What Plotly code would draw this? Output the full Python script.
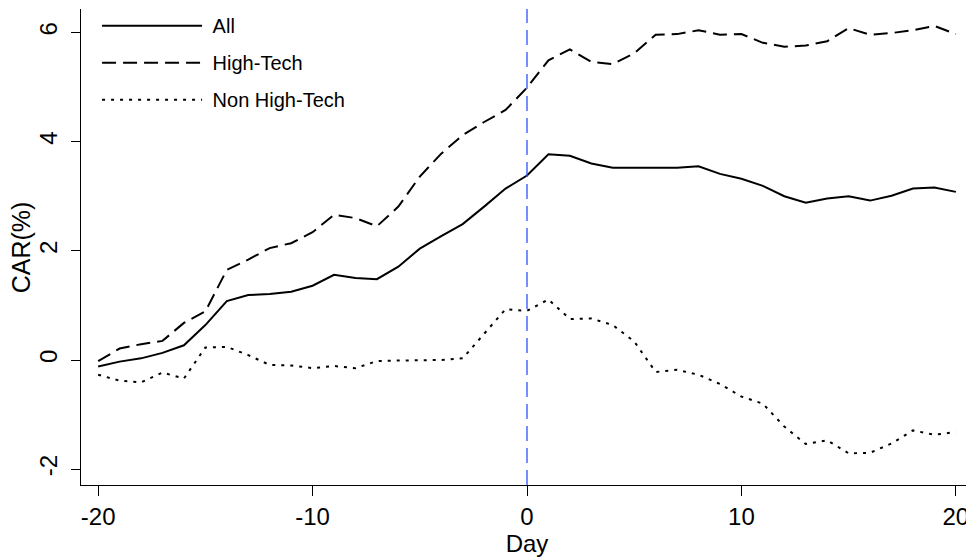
import plotly.graph_objects as go

days = list(range(-20, 21))

car_all = [-0.12, -0.03, 0.03, 0.13, 0.27, 0.64, 1.08, 1.19, 1.21, 1.25, 1.36,
           1.56, 1.50, 1.48, 1.71, 2.04, 2.27, 2.49, 2.81, 3.14, 3.38,
           3.77, 3.74, 3.60, 3.52, 3.52, 3.51, 3.52, 3.55, 3.41, 3.32,
           3.19, 3.00, 2.88, 2.96, 3.00, 2.92, 3.01, 3.14, 3.16, 3.08]

car_high = [-0.02, 0.21, 0.29, 0.35, 0.68, 0.89, 1.65, 1.84, 2.05, 2.14, 2.34,
            2.66, 2.60, 2.45, 2.81, 3.36, 3.78, 4.12, 4.36, 4.58, 4.99,
            5.49, 5.69, 5.46, 5.42, 5.62, 5.96, 5.97, 6.04, 5.96, 5.97,
            5.81, 5.74, 5.76, 5.84, 6.08, 5.96, 5.99, 6.04, 6.12, 5.97]

car_non = [-0.27, -0.38, -0.41, -0.23, -0.34, 0.23, 0.24, 0.09, -0.09, -0.10, -0.15,
           -0.11, -0.15, -0.02, -0.01, -0.01, 0.00, 0.03, 0.49, 0.93, 0.90,
           1.11, 0.75, 0.76, 0.64, 0.34, -0.22, -0.18, -0.27, -0.44, -0.67,
           -0.80, -1.22, -1.54, -1.47, -1.71, -1.70, -1.53, -1.29, -1.37, -1.32]

series_names = ["All", "High-Tech", "Non High-Tech"]

x_ticks = [-20, -10, 0, 10, 20]
x_ticktext = ["-20", "-10", "0", "10", "20"]
y_ticks = [-2, 0, 2, 4, 6]
y_ticktext = ["-2", "0", "2", "4", "6"]
event_day = 0

FONT = "Liberation Sans, Arial, Helvetica, sans-serif"
NBSP = "\u00a0"

fig = go.Figure()
fig.add_trace(go.Scatter(x=days, y=car_all, mode="lines", name=NBSP + series_names[0],
                         line=dict(color="black", width=2, dash="solid"),
                         legendgroup="a"))
fig.add_trace(go.Scatter(x=days, y=car_high, mode="lines", name=NBSP + series_names[1],
                         line=dict(color="black", width=2, dash="14px,7px"),
                         legendgroup="b"))
fig.add_trace(go.Scatter(x=days, y=car_non, mode="lines", name=NBSP + series_names[2],
                         line=dict(color="black", width=2, dash="3px,6px"),
                         legendgroup="c"))

fig.add_vline(x=event_day, line=dict(color="#2f52ff", width=1.3, dash="15px,7px"))

# page body has an 8px margin, so the figure is sized/offset to compensate
fig.update_layout(
    width=966, height=552,
    margin=dict(l=73, r=1, t=1, b=75, autoexpand=False),
    paper_bgcolor="white", plot_bgcolor="white",
    font=dict(family=FONT, color="black", size=24),
    showlegend=True,
    legend=dict(x=0.018, y=1.006, xanchor="left", yanchor="top",
                bgcolor="rgba(0,0,0,0)", borderwidth=0,
                font=dict(size=20, family=FONT),
                itemwidth=100, traceorder="grouped", tracegroupgap=8),
    xaxis=dict(range=[-20.8, 20.8], tickvals=x_ticks, ticktext=x_ticktext,
               ticks="outside", ticklen=10, tickwidth=1.3, tickcolor="black",
               showline=True, linecolor="black", linewidth=1.3,
               showgrid=False, zeroline=False, automargin=False,
               tickfont=dict(size=24),
               title=dict(text="Day", font=dict(size=24), standoff=4)),
    yaxis=dict(range=[-2.29, 6.43], tickvals=y_ticks, ticktext=y_ticktext,
               ticks="outside", ticklen=9, tickwidth=1.3, tickcolor="black",
               showline=True, linecolor="black", linewidth=1.3,
               showgrid=False, zeroline=False, tickangle=-90, automargin=False,
               ticklabelstandoff=4,
               tickfont=dict(size=24)),
    annotations=[dict(text="CAR(%)", xref="paper", yref="paper",
                      x=-0.067, y=0.5, showarrow=False, textangle=-90,
                      font=dict(size=25), xanchor="center", yanchor="middle")],
)

fig.write_html("out.html")
